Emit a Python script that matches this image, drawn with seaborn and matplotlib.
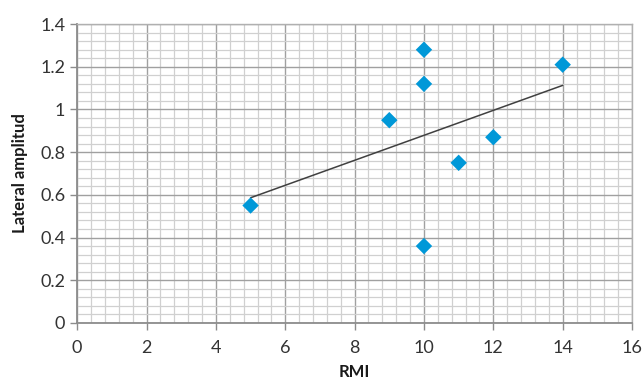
import numpy as np
import pandas as pd
import matplotlib
matplotlib.use('Agg')
import matplotlib.pyplot as plt
from matplotlib.ticker import MultipleLocator, FuncFormatter
import seaborn as sns

# data
rmi = [5, 9, 10, 10, 10, 11, 12, 14]
lateral_amplitud = [0.55, 0.95, 1.28, 1.12, 0.36, 0.75, 0.87, 1.21]

df = pd.DataFrame({'RMI': rmi, 'Lateral amplitud': lateral_amplitud})

sns.set_style('white')
plt.rcParams['font.family'] = ['Lato', 'DejaVu Sans']

fig = plt.figure(figsize=(6.43, 3.83), dpi=100)
ax = fig.add_axes([0.12, 0.157, 0.863, 0.78])

sns.regplot(data=df, x='RMI', y='Lateral amplitud', ci=None, ax=ax,
            marker='D', truncate=True,
            scatter_kws={'s': 70, 'color': '#0098d8', 'edgecolor': 'none', 'alpha': 1, 'zorder': 3},
            line_kws={'color': '#404040', 'linewidth': 1.1, 'zorder': 2})

ax.set_xlim(0, 16)
ax.set_ylim(0, 1.4)
ax.xaxis.set_major_locator(MultipleLocator(2))
ax.xaxis.set_minor_locator(MultipleLocator(0.4))
ax.yaxis.set_major_locator(MultipleLocator(0.2))
ax.yaxis.set_minor_locator(MultipleLocator(0.04))
ax.yaxis.set_major_formatter(FuncFormatter(lambda v, p: f'{v:.1f}'.rstrip('0').rstrip('.') if v else '0'))

ax.grid(which='major', color='#a0a0a0', linewidth=1.0, zorder=0)
ax.grid(which='minor', color='#d0d0d0', linewidth=0.9, zorder=0)
ax.set_axisbelow(True)

for side in ['left', 'bottom']:
    ax.spines[side].set_color('#8c8c8c')
    ax.spines[side].set_linewidth(1.3)
for side in ['top', 'right']:
    ax.spines[side].set_color('#b0b0b0')
    ax.spines[side].set_linewidth(1.0)

ax.tick_params(which='major', direction='out', length=5, width=1, color='#8c8c8c',
               labelsize=13, labelcolor='#333333', bottom=True, left=True)
ax.tick_params(which='minor', length=0)
ax.tick_params(axis='x', pad=7)

ax.set_xlabel('RMI', fontsize=12, fontweight='bold', color='#1a1a1a', labelpad=6)
ax.set_ylabel('Lateral amplitud', fontsize=12, fontweight='bold', color='#1a1a1a', labelpad=9)

fig.savefig('out.png', dpi=100)
